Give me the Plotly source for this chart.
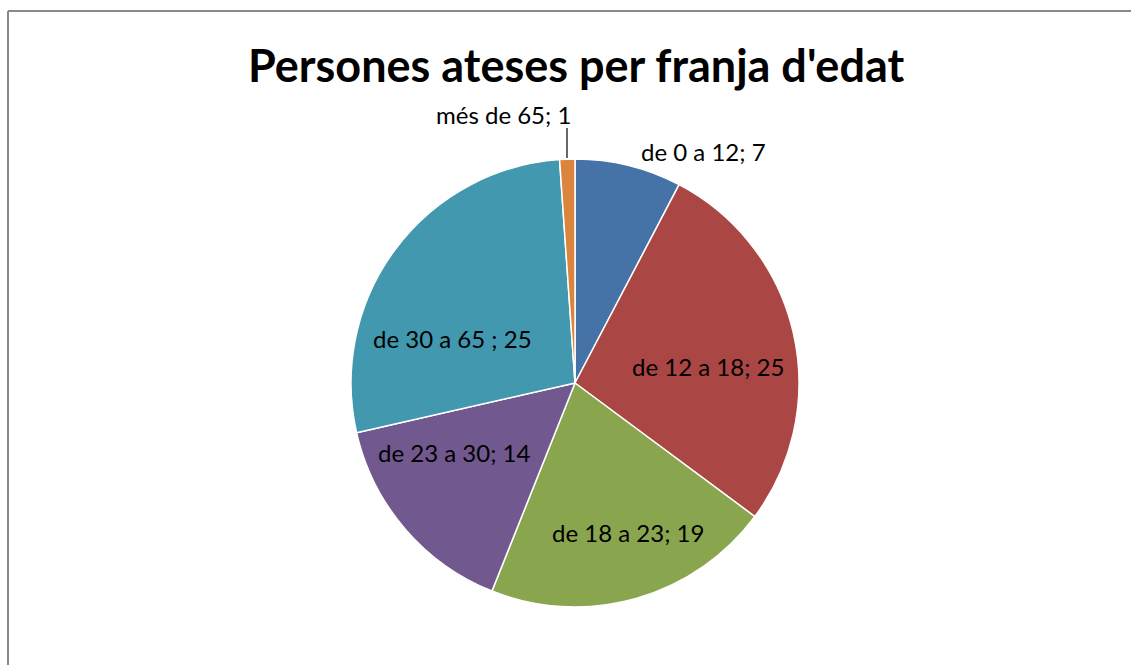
import plotly.graph_objects as go

categories = ["de 0 a 12", "de 12 a 18", "de 18 a 23", "de 23 a 30", "de 30 a 65 ", "més de 65"]
values = [7, 25, 19, 14, 25, 1]
colors = ["#4572A7", "#AA4643", "#89A54E", "#71588F", "#4198AF", "#DB843D"]
title_text = "Persones ateses per franja d'edat"

# layout (pixel positions in the page; body margin removed via post_script)
W, H = 1131, 665
OFF = 0
cx, cy, r = 575 - OFF, 383 - OFF, 224
label_pos = [(703, 152), (708, 366), (628, 532), (454, 452), (452, 338), (503, 115)]


def px(x, y):
    return (x - OFF) / W, 1 - (y - OFF) / H


fig = go.Figure()
fig.add_trace(go.Pie(
    labels=categories,
    values=values,
    sort=False,
    direction="clockwise",
    rotation=0,
    marker=dict(colors=colors, line=dict(color="white", width=1.5)),
    textinfo="none",
    showlegend=False,
    hoverinfo="label+value",
    domain=dict(x=[(cx - r) / W, (cx + r) / W], y=[1 - (cy + r) / H, 1 - (cy - r) / H]),
))

for cat, val, (lx, ly) in zip(categories, values, label_pos):
    ax_, ay_ = px(lx, ly)
    fig.add_annotation(x=ax_, y=ay_, xref="paper", yref="paper",
                       text=f"{cat}; {val}", showarrow=False,
                       font=dict(family="Lato", size=24, color="black"),
                       xanchor="center", yanchor="middle")

# leader line for the smallest slice
x0, y0 = px(567, 128)
x1, y1 = px(567, 158)
fig.add_shape(type="line", xref="paper", yref="paper", x0=x0, y0=y0, x1=x1, y1=y1,
              line=dict(color="black", width=1.2))

tx, ty = px(576, 65)
fig.add_annotation(
    x=tx, y=ty, xref="paper", yref="paper",
    text="<b>" + title_text + "</b>", showarrow=False,
    font=dict(family="Lato", size=45, color="black"),
    xanchor="center", yanchor="middle",
)

# chart area border (extends past right and bottom edges)
bx, by = px(8, 11)
fig.add_shape(type="line", xref="paper", yref="paper", x0=bx, y0=by, x1=1.0, y1=by,
              line=dict(color="#898989", width=2))
fig.add_shape(type="line", xref="paper", yref="paper", x0=bx, y0=by, x1=bx, y1=0.0,
              line=dict(color="#898989", width=2))

fig.update_layout(
    width=W, height=H,
    margin=dict(l=0, r=0, t=0, b=0),
    paper_bgcolor="white", plot_bgcolor="white",
)
fig.write_html(
    "out.html",
    config={"displayModeBar": False},
    post_script="document.body.style.margin='0';document.body.style.overflow='hidden';",
)
